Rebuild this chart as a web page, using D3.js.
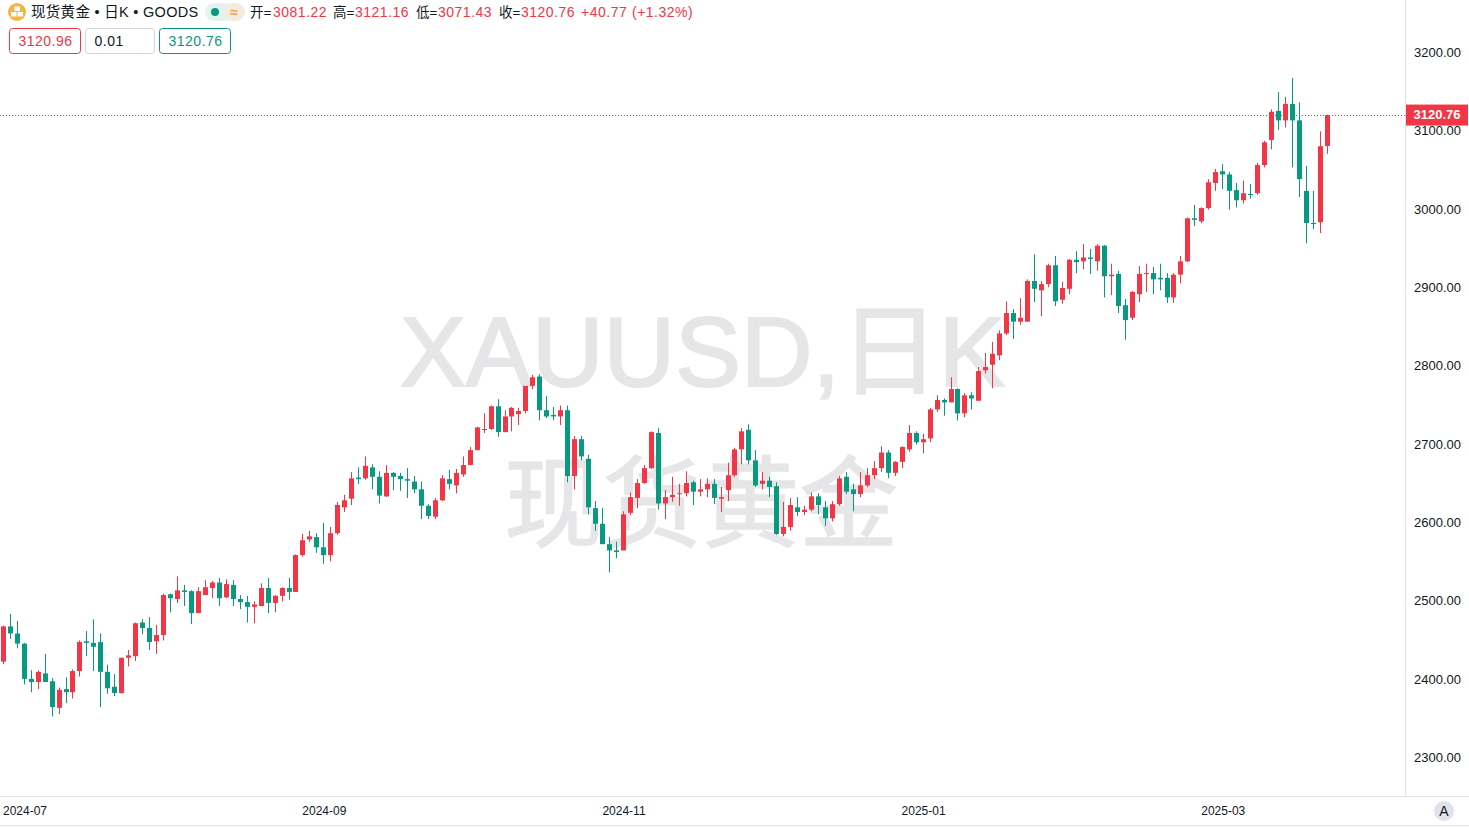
<!DOCTYPE html>
<html lang="zh"><head><meta charset="utf-8">
<script src="https://cdn.jsdelivr.net/npm/d3@7/dist/d3.min.js"></script>
<style>html,body{margin:0;padding:0;background:#fff;overflow:hidden}svg{display:block}</style></head>
<body><svg id="c" width="1469" height="827"></svg>
<script>
const open=[2423,2468,2459,2446,2401,2397,2408,2398,2364,2388,
2384,2411,2449,2447,2448,2410,2391,2383,2428,2430,
2473,2466,2449,2457,2509,2503,2514,2513,2485,2508,
2517,2524,2505,2521,2503,2499,2493,2494,2517,2498,
2507,2517,2512,2559,2579,2582,2569,2559,2587,2620,
2631,2658,2657,2671,2659,2634,2664,2660,2656,2653,
2643,2622,2608,2629,2656,2648,2662,2674,2693,2719,
2720,2749,2716,2736,2739,2743,2775,2787,2744,2738,
2736,2744,2660,2707,2682,2619,2599,2573,2565,2565,
2613,2632,2651,2670,2715,2625,2633,2637,2638,2652,
2640,2643,2650,2631,2642,2661,2694,2719,2680,2650,
2654,2647,2586,2595,2620,2614,2617,2634,2620,2606,
2624,2659,2643,2637,2648,2661,2670,2690,2664,2678,
2694,2715,2703,2708,2745,2757,2754,2771,2740,2763,
2756,2795,2802,2814,2842,2868,2857,2857,2909,2897,
2905,2929,2885,2899,2936,2934,2939,2934,2954,2915,
2918,2878,2862,2892,2918,2919,2913,2913,2888,2917,
2934,2989,2985,3002,3034,3049,3045,3025,3012,3020,
3021,3057,3089,3126,3114,3135,3114,3024,2983,2984,3081.22];
const high=[2469,2484,2475,2447,2412,2412,2433,2402,2390,2403,
2413,2450,2462,2477,2459,2419,2407,2428,2438,2473,
2477,2480,2470,2510,2510,2532,2521,2514,2518,2527,
2526,2530,2528,2527,2508,2507,2500,2523,2530,2508,
2518,2530,2560,2586,2590,2587,2600,2595,2627,2636,
2665,2671,2685,2675,2666,2674,2665,2664,2670,2660,
2653,2624,2632,2661,2668,2669,2685,2697,2723,2740,
2750,2758,2744,2748,2747,2775,2789,2790,2762,2748,
2750,2750,2711,2711,2687,2628,2619,2582,2576,2615,
2639,2656,2674,2717,2721,2642,2659,2650,2666,2654,
2656,2657,2656,2646,2677,2696,2721,2726,2693,2665,
2659,2652,2627,2632,2633,2622,2639,2638,2628,2628,
2660,2665,2650,2665,2670,2679,2698,2693,2679,2698,
2725,2717,2714,2747,2763,2759,2786,2772,2766,2767,
2799,2817,2831,2846,2883,2873,2887,2911,2943,2909,
2931,2941,2908,2937,2947,2956,2950,2956,2955,2931,
2922,2886,2896,2928,2931,2927,2931,2919,2919,2941,
2990,3006,3003,3039,3052,3058,3048,3034,3037,3033,
3060,3088,3128,3150,3144,3168,3137,3056,3024,3100,3121.16];
const low=[2420,2452,2440,2394,2384,2388,2397,2353,2356,2370,
2376,2404,2430,2411,2365,2382,2379,2382,2417,2424,
2458,2438,2433,2450,2486,2498,2494,2471,2485,2508,
2504,2494,2504,2494,2490,2473,2472,2494,2485,2486,
2500,2502,2512,2557,2576,2562,2548,2551,2585,2614,
2623,2650,2655,2643,2625,2633,2642,2641,2632,2638,
2605,2605,2605,2628,2643,2638,2659,2674,2693,2715,
2719,2710,2716,2717,2725,2740,2771,2731,2734,2731,
2725,2652,2643,2680,2611,2590,2573,2537,2555,2565,
2610,2619,2650,2669,2617,2605,2627,2622,2634,2623,
2634,2633,2624,2614,2628,2659,2675,2675,2646,2643,
2633,2585,2583,2590,2609,2610,2615,2611,2596,2602,
2622,2637,2615,2633,2646,2656,2665,2657,2660,2670,
2691,2700,2689,2703,2742,2737,2754,2731,2735,2745,
2756,2791,2772,2808,2840,2835,2853,2857,2882,2864,
2901,2877,2880,2892,2919,2924,2918,2922,2888,2891,
2868,2834,2859,2882,2895,2892,2897,2881,2881,2906,
2933,2979,2983,3000,3024,3026,3000,3003,3008,3014,
3019,3054,3077,3102,3105,3054,3016,2957,2975,2970,3071.43];
const close=[2468,2459,2446,2401,2397,2410,2397,2365,2387,2384,
2411,2448,2447,2442,2410,2389,2383,2428,2431,2472,
2466,2448,2457,2508,2504,2514,2512,2485,2513,2518,
2524,2504,2522,2503,2499,2493,2496,2517,2498,2507,
2517,2512,2559,2578,2583,2569,2559,2587,2623,2629,
2657,2656,2673,2659,2635,2664,2659,2656,2654,2643,
2622,2609,2629,2657,2650,2664,2674,2693,2722,2720,
2749,2716,2736,2747,2743,2775,2786,2744,2736,2736,
2744,2660,2707,2685,2620,2599,2573,2565,2563,2611,
2633,2651,2670,2716,2625,2633,2636,2638,2651,2640,
2643,2650,2632,2633,2661,2694,2717,2680,2648,2654,
2646,2586,2595,2623,2614,2617,2634,2623,2606,2624,
2657,2640,2637,2648,2661,2670,2690,2664,2678,2697,
2715,2703,2707,2745,2757,2754,2771,2740,2763,2759,
2794,2799,2816,2842,2868,2857,2862,2909,2899,2905,
2929,2883,2900,2936,2933,2939,2937,2954,2915,2917,
2877,2859,2895,2918,2919,2911,2911,2888,2917,2934,
2989,2987,3002,3035,3048,3045,3024,3012,3021,3019,
3057,3086,3125,3114,3135,3114,3039,2983,2982,3081,3120.76];
const priceTicks=[2300,2400,2500,2600,2700,2800,2900,3000,3100,3200];
const dateLabels=["2024-07","2024-09","2024-11","2025-01","2025-03"];
const dateIndex=[0,46,89,132,175];
const lastPrice=3120.76;

const FONT='"Liberation Sans","Noto Sans CJK SC",sans-serif';
const UP='#f23645',DOWN='#089981',BORDER='#e0e3eb',INK='#131722';
const svg=d3.select('#c').style('font-family',FONT);
const x=d3.scaleLinear().domain([0,190]).range([3.3,1327.3]);
const y=d3.scaleLinear().domain([2300,3200]).range([758,53]);
const indices=d3.range(open.length);
const px=i=>Math.floor(x(i));

// watermark
const wm=svg.append('g').attr('fill','#e6e6e8').attr('stroke','#e6e6e8').attr('text-anchor','middle');
wm.append('text').attr('x',702.5).attr('y',385.5).attr('font-size',99).attr('stroke-width',2).text('XAUUSD,日K');
wm.append('text').attr('x',701).attr('y',538.5).attr('font-size',98.5).attr('stroke-width',1.4).text('现货黄金');

// frame
svg.append('line').attr('x1',1405.5).attr('x2',1405.5).attr('y1',0).attr('y2',796).attr('stroke',BORDER);
svg.append('line').attr('x1',0).attr('x2',1469).attr('y1',796.5).attr('y2',796.5).attr('stroke',BORDER);
svg.append('line').attr('x1',0).attr('x2',1469).attr('y1',825.5).attr('y2',825.5).attr('stroke',BORDER);

// last price line
svg.append('line').attr('x1',0).attr('x2',1405).attr('y1',Math.floor(y(lastPrice))+.5).attr('y2',Math.floor(y(lastPrice))+.5)
  .attr('stroke',UP).attr('stroke-width',1).attr('stroke-dasharray','1 2');

// candles
const g=svg.append('g').selectAll('g').data(indices).join('g')
  .attr('fill',i=>close[i]>=open[i]?UP:DOWN);
g.append('rect').attr('x',i=>px(i)).attr('width',1)
  .attr('y',i=>y(high[i])).attr('height',i=>y(low[i])-y(high[i]));
g.append('rect').attr('x',i=>px(i)-2).attr('width',5)
  .attr('y',i=>y(Math.max(open[i],close[i])))
  .attr('height',i=>Math.max(1,Math.abs(y(open[i])-y(close[i]))));

// price axis
const yAxis=svg.append('g').attr('transform','translate(1414,-0.8)')
  .call(d3.axisRight(y).tickValues(priceTicks).tickSize(0).tickPadding(0).tickFormat(d3.format('.2f')));
yAxis.select('.domain').remove();
yAxis.selectAll('text').attr('font-size',13).attr('fill',INK).attr('font-family',FONT);

// last price tag
const ly=y(lastPrice);
svg.append('rect').attr('x',1406).attr('y',ly-10.5).attr('width',62).attr('height',21).attr('fill',UP);
svg.append('text').attr('x',1437).attr('y',ly+4).attr('text-anchor','middle').attr('font-size',13)
  .attr('font-weight','bold').attr('fill','#fff').text(d3.format('.2f')(lastPrice));

// time axis
svg.append('g').selectAll('text').data(dateLabels).join('text')
  .attr('x',(d,i)=>i===0?3:x(dateIndex[i])+.5).attr('y',815)
  .attr('text-anchor',(d,i)=>i===0?'start':'middle')
  .attr('font-size',12).attr('fill',INK).text(d=>d);
svg.append('circle').attr('cx',1444).attr('cy',811).attr('r',10).attr('fill',BORDER);
svg.append('text').attr('x',1444).attr('y',816).attr('text-anchor','middle').attr('font-size',14).attr('fill',INK).text('A');

// header
svg.append('circle').attr('cx',17).attr('cy',12).attr('r',9).attr('fill','#f3b63f');
svg.append('g').attr('fill','#fff').selectAll('rect').data([[14.5,6.5],[11,12],[17.5,12]]).join('rect')
  .attr('x',d=>d[0]).attr('y',d=>d[1]).attr('width',5.5).attr('height',4.5);
svg.append('text').attr('x',31).attr('y',17).attr('font-size',14.5).attr('letter-spacing',0.3).attr('fill',INK).text('现货黄金 • 日K • GOODS');
svg.append('rect').attr('x',205).attr('y',3).attr('width',30).attr('height',18).attr('rx',9).attr('fill','#e3f3f0');
svg.append('rect').attr('x',224).attr('y',3).attr('width',21).attr('height',18).attr('rx',9).attr('fill','#f4ece0');
svg.append('circle').attr('cx',215).attr('cy',12).attr('r',4).attr('fill',DOWN);
svg.append('text').attr('x',234).attr('y',16.5).attr('text-anchor','middle').attr('font-size',14).attr('font-weight','bold').attr('fill','#f0a040').text('≈');

const ohlcLabels=[['开=',250],['高=',333],['低=',416],['收=',499]];
const ohlcValues=[['3081.22',273],['3121.16',355],['3071.43',438],['3120.76',521],['+40.77',581],['(+1.32%)',632]];
svg.append('g').selectAll('text').data(ohlcLabels).join('text').attr('x',d=>d[1]).attr('y',16.5)
  .attr('font-size',13.5).attr('fill',INK).text(d=>d[0]);
svg.append('g').selectAll('text').data(ohlcValues).join('text').attr('x',d=>d[1]).attr('y',16.5)
  .attr('font-size',14).attr('letter-spacing',0.5).attr('fill',UP).text(d=>d[0]);

const boxes=[[9.5,71,'3120.96',UP,UP],[85.5,69,'0.01','#d1d4dc',INK],[159.5,71,'3120.76',DOWN,DOWN]];
boxes.forEach(b=>{
  svg.append('rect').attr('x',b[0]).attr('y',28.5).attr('width',b[1]).attr('height',25).attr('rx',3)
    .attr('fill','#fff').attr('stroke',b[3]);
  svg.append('text').attr('x',b[0]+9).attr('y',46).attr('font-size',14).attr('letter-spacing',0.5).attr('fill',b[4]).text(b[2]);
});
</script></body></html>
